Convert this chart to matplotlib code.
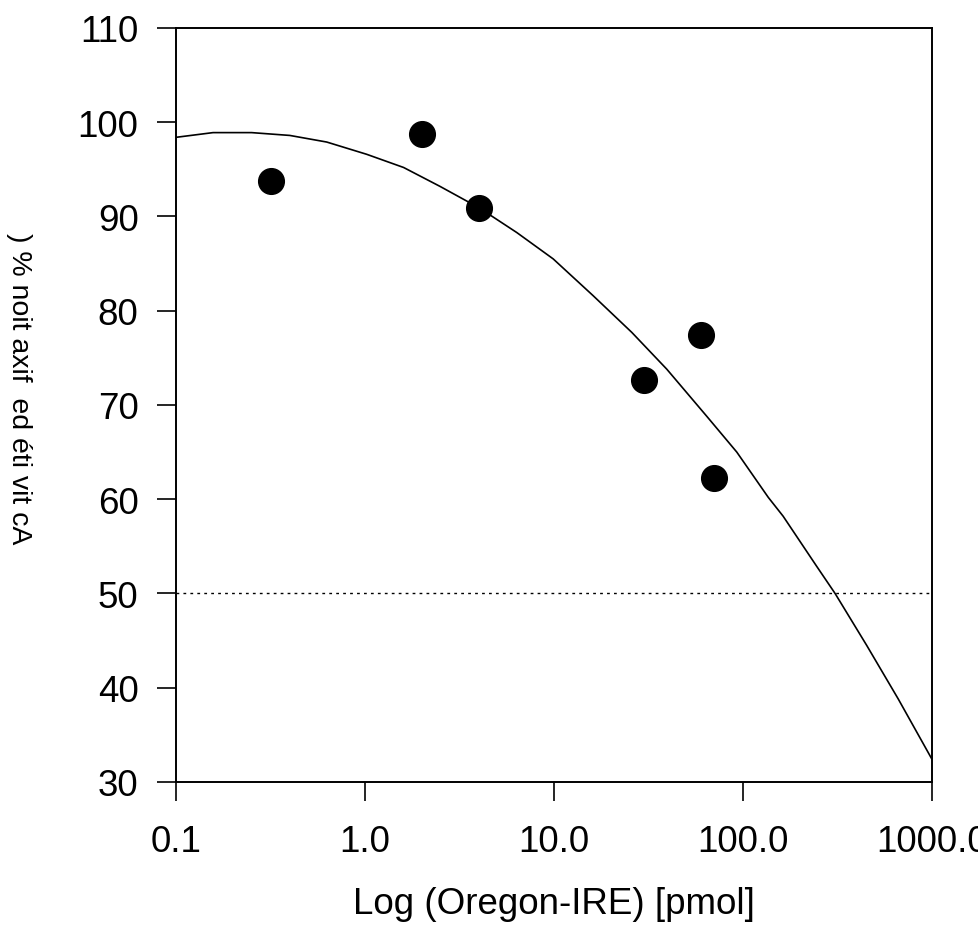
import numpy as np
import matplotlib.pyplot as plt

# measured points
conc = [0.32, 2.0, 4.0, 30.0, 60.0, 70.0]
activity = [93.8, 98.7, 90.9, 72.6, 77.4, 62.3]

# fitted curve
curve_x = [0.1, 0.157, 0.251, 0.40, 0.627, 1.02, 1.6, 2.49, 4.03, 6.35, 9.9,
           16.1, 25.8, 39.5, 64.3, 92.7, 136, 163, 245, 307, 451, 663, 1000]
curve_y = [98.4, 98.9, 98.9, 98.6, 97.9, 96.6, 95.2, 93.2, 90.9, 88.3, 85.5,
           81.6, 77.7, 73.8, 68.8, 65.0, 60.2, 58.2, 52.9, 50.0, 44.5, 38.8, 32.4]

half_level = 50

xticks = [0.1, 1, 10, 100, 1000]
xticklabels = ['0.1', '1.0', '10.0', '100.0', '1000.0']
yticks = [30, 40, 50, 60, 70, 80, 90, 100, 110]

plt.rcParams['font.family'] = ['Liberation Sans', 'DejaVu Sans']

fig = plt.figure(figsize=(9.79, 9.28), dpi=100)
ax = fig.add_axes([0.1798, 0.1563, 0.952 - 0.1798, 0.96875 - 0.1563])

ax.plot(curve_x, curve_y, 'k-', lw=1.2)
ax.plot(conc, activity, 'o', color='k', ms=18.5, mec='k')
ax.axhline(half_level, color='k', lw=1, linestyle=(0, (2, 3)))

ax.set_xscale('log')
ax.set_xlim(0.1, 1000)
ax.set_ylim(30, 110)
ax.set_xticks(xticks)
ax.set_xticklabels(xticklabels)
ax.minorticks_off()
ax.set_yticks(yticks)

for s in ax.spines.values():
    s.set_linewidth(1.4)
    s.set_color('k')

ax.tick_params(axis='both', direction='out', length=14, width=1.2,
               labelsize=26.5, color='k')
ax.tick_params(axis='y', pad=13)
ax.tick_params(axis='x', pad=16)

ax.set_xlabel('Log (Oregon-IRE) [pmol]', fontsize=26.5, labelpad=20)

# garbled y label as it appears in the original
fig.text(19 / 979, 1 - 389 / 928, ') % noit axif  ed éti vit cA',
         rotation=270, fontsize=20.5, ha='center', va='center')

fig.savefig('out.png', dpi=100)
